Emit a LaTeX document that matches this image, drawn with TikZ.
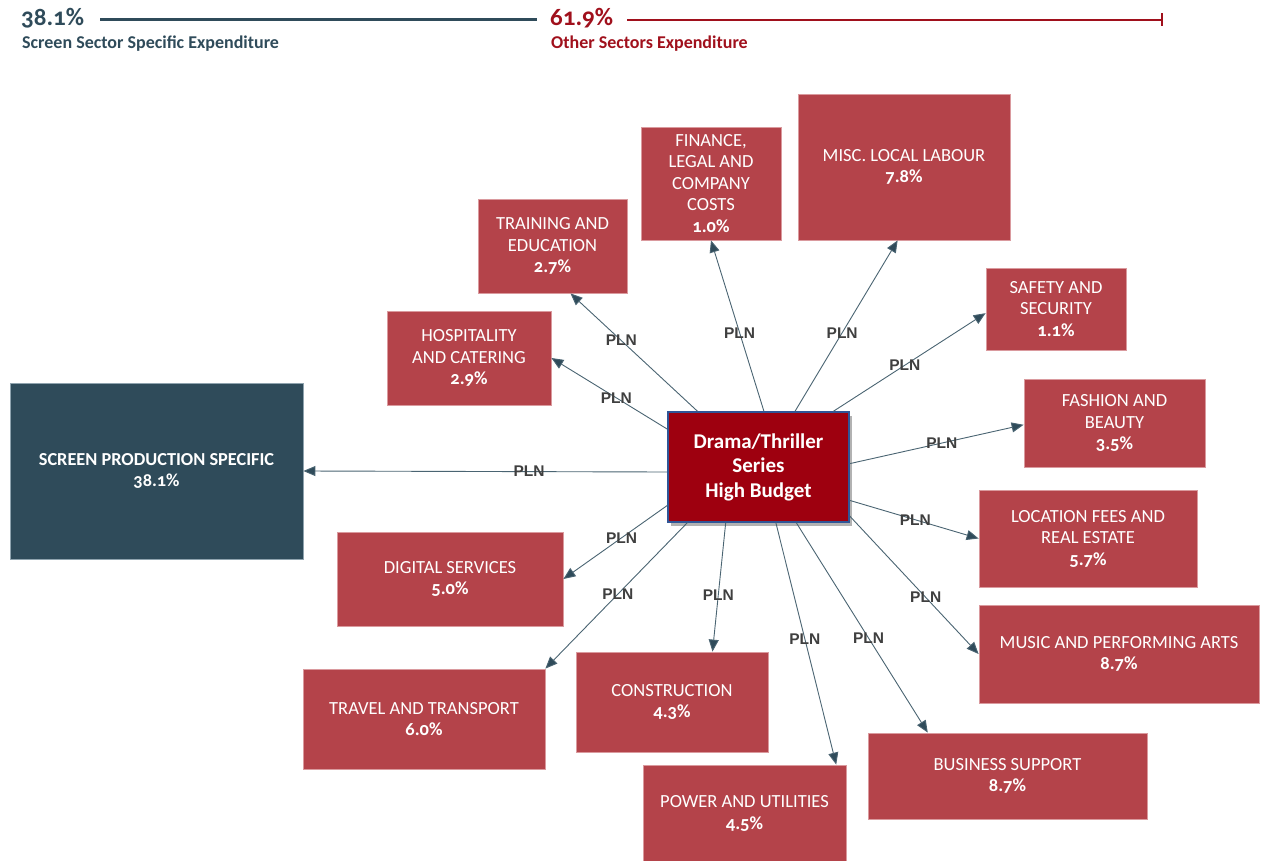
\documentclass[tikz,border=0pt]{standalone}
\usepackage{fontspec}
\setmainfont{Carlito}[Numbers=OldStyle]
\newfontfamily\plnfont{Liberation Sans}
\usetikzlibrary{arrows.meta,calc,shadows}
\definecolor{boxred}{HTML}{B4434A}
\definecolor{boxedge}{HTML}{DA9A9E}
\definecolor{centred}{HTML}{9E000F}
\definecolor{centedge}{HTML}{2F5597}
\definecolor{slate}{HTML}{2F4B5A}
\definecolor{slateedge}{HTML}{8FA3AE}
\definecolor{legred}{HTML}{A0101C}
\definecolor{arrowc}{HTML}{4A6472}
\definecolor{arrowtip}{HTML}{2F4B5A}
\definecolor{plngray}{HTML}{3F3F3F}
\begin{document}
\begin{tikzpicture}[x=1pt,y=-1pt,
  rbox/.style={rectangle, fill=boxred, draw=boxedge, line width=0.8pt, text=white,
    align=center, inner sep=0pt, font=\fontsize{18.5}{21.5}\selectfont},
  sbox/.style={rectangle, fill=slate, draw=slateedge, line width=0.8pt, text=white,
    align=center, inner sep=0pt, font=\bfseries\fontsize{18.3}{20.5}\selectfont},
  cbox/.style={rectangle, fill=centred, draw=centedge, line width=1.2pt, text=white,
    align=center, inner sep=0pt, font=\bfseries\fontsize{21}{24.5}\selectfont,
    drop shadow={shadow xshift=3pt, shadow yshift=-4pt, opacity=0.3, fill=black}},
  arr/.style={draw=arrowc, line width=0.9pt, -{Triangle[length=12pt,width=10pt,fill=arrowtip]}},
  pln/.style={font=\plnfont\bfseries\fontsize{15.5}{15.5}\selectfont, text=plngray, inner sep=0pt},
  legnum/.style={anchor=west, inner sep=0pt, font=\bfseries\fontsize{25}{25}\selectfont},
  legtxt/.style={anchor=west, inner sep=0pt, font=\bfseries\fontsize{18}{18}\selectfont},
]
\useasboundingbox (0,0) rectangle (1261,861);

% legend
\node[legnum, text=slate] (lgA) at (21,18) {38.1\%};
\node[legtxt, text=slate] (lgAt) at (22,44) {Screen Sector Specific Expenditure};
\node[legnum, text=legred] (lgB) at (550,18) {61.9\%};
\node[legtxt, text=legred] (lgBt) at (551,44) {Other Sectors Expenditure};
\draw[slate, line width=3pt] (100,20) -- (537,20);
\draw[legred, line width=2.5pt] (627,20) -- (1162,20);
\draw[legred, line width=2pt] (1162,13.5) -- (1162,26.5);

% boxes
\node[cbox, minimum width=181pt, minimum height=110pt] (c) at (758.5,467) {Drama/Thriller\\Series\\High Budget};
\node[sbox, minimum width=293pt, minimum height=176pt] (scr) at (156.5,471) {SCREEN PRODUCTION SPECIFIC\\38.1\%};
\node[rbox, minimum width=149pt, minimum height=94pt] (train) at (552.5,246) {TRAINING AND\\EDUCATION\\\textbf{2.7\%}};
\node[rbox, minimum width=140pt, minimum height=113pt] (fin) at (711,183.5) {FINANCE,\\LEGAL AND\\COMPANY\\COSTS\\\textbf{1.0\%}};
\node[rbox, minimum width=212pt, minimum height=146pt] (misc) at (904,167) {MISC. LOCAL LABOUR\\\textbf{7.8\%}};
\node[rbox, minimum width=140pt, minimum height=82pt] (safe) at (1056,309) {SAFETY AND\\SECURITY\\\textbf{1.1\%}};
\node[rbox, minimum width=164pt, minimum height=94pt] (hosp) at (469,358) {HOSPITALITY\\AND CATERING\\\textbf{2.9\%}};
\node[rbox, minimum width=181pt, minimum height=88pt] (fash) at (1114.5,423) {FASHION AND\\BEAUTY\\\textbf{3.5\%}};
\node[rbox, minimum width=218pt, minimum height=97pt] (loc) at (1088,538.5) {LOCATION FEES AND\\REAL ESTATE\\\textbf{5.7\%}};
\node[rbox, minimum width=280pt, minimum height=98pt] (music) at (1119,654) {MUSIC AND PERFORMING ARTS\\\textbf{8.7\%}};
\node[rbox, minimum width=279pt, minimum height=86pt] (bus) at (1007.5,776) {BUSINESS SUPPORT\\\textbf{8.7\%}};
\node[rbox, minimum width=203pt, minimum height=97pt] (power) at (744.5,813.5) {POWER AND UTILITIES\\\textbf{4.5\%}};
\node[rbox, minimum width=192pt, minimum height=100pt] (cons) at (672,702) {CONSTRUCTION\\\textbf{4.3\%}};
\node[rbox, minimum width=242pt, minimum height=100pt] (trav) at (424,719) {TRAVEL AND TRANSPORT\\\textbf{6.0\%}};
\node[rbox, minimum width=226pt, minimum height=94pt] (dig) at (450,579) {DIGITAL SERVICES\\\textbf{5.0\%}};

% start points on the centre box
\coordinate (sTrain) at ($(c.north west)!0.166!(c.north east)$);
\coordinate (sFin)   at ($(c.north west)!0.53!(c.north east)$);
\coordinate (sMisc)  at ($(c.north west)!0.70!(c.north east)$);
\coordinate (sSafe)  at ($(c.north west)!0.91!(c.north east)$);
\coordinate (sHosp)  at ($(c.north west)!0.16!(c.south west)$);
\coordinate (sScr)   at ($(c.north west)!0.545!(c.south west)$);
\coordinate (sDig)   at ($(c.north west)!0.845!(c.south west)$);
\coordinate (sTrav)  at ($(c.south west)!0.11!(c.south east)$);
\coordinate (sCons)  at ($(c.south west)!0.32!(c.south east)$);
\coordinate (sPow)   at ($(c.south west)!0.595!(c.south east)$);
\coordinate (sBus)   at ($(c.south west)!0.707!(c.south east)$);
\coordinate (sFash)  at ($(c.north east)!0.47!(c.south east)$);
\coordinate (sLoc)   at ($(c.north east)!0.80!(c.south east)$);
\coordinate (sMus)   at ($(c.north east)!0.94!(c.south east)$);

% end points on the target boxes
\coordinate (eTrain) at ($(train.south west)!0.62!(train.south east)$);
\coordinate (eMisc)  at ($(misc.south west)!0.47!(misc.south east)$);
\coordinate (eSafe)  at ($(safe.north west)!0.55!(safe.south west)$);
\coordinate (eFash)  at ($(fash.north west)!0.52!(fash.south west)$);
\coordinate (eBus)   at ($(bus.north west)!0.215!(bus.north east)$);
\coordinate (ePow)   at ($(power.north west)!0.95!(power.north east)$);
\coordinate (eCons)  at ($(cons.north west)!0.71!(cons.north east)$);

% connectors
\draw[arr] (sScr)   -- (scr.east)        node[pln, pos=0.38] {PLN};
\draw[arr] (sHosp)  -- (hosp.east)       node[pln, pos=0.44] {PLN};
\draw[arr] (sTrain) -- (eTrain)          node[pln, pos=0.60] {PLN};
\draw[arr] (sFin)   -- (fin.south)       node[pln, pos=0.46] {PLN};
\draw[arr] (sMisc)  -- (eMisc)           node[pln, pos=0.46] {PLN};
\draw[arr] (sSafe)  -- (eSafe)           node[pln, pos=0.47] {PLN};
\draw[arr] (sFash)  -- (eFash)           node[pln, pos=0.53] {PLN};
\draw[arr] (sLoc)   -- (loc.west)        node[pln, pos=0.51] {PLN};
\draw[arr] (sMus)   -- (music.west)      node[pln, pos=0.59] {PLN};
\draw[arr] (sBus)   -- (eBus)            node[pln, pos=0.55] {PLN};
\draw[arr] (sPow)   -- (ePow)            node[pln, pos=0.48] {PLN};
\draw[arr] (sCons)  -- (eCons)           node[pln, pos=0.56] {PLN};
\draw[arr] (sTrav)  -- (trav.north east) node[pln, pos=0.49] {PLN};
\draw[arr] (sDig)   -- (dig.east)        node[pln, pos=0.44] {PLN};
\end{tikzpicture}
\end{document}
